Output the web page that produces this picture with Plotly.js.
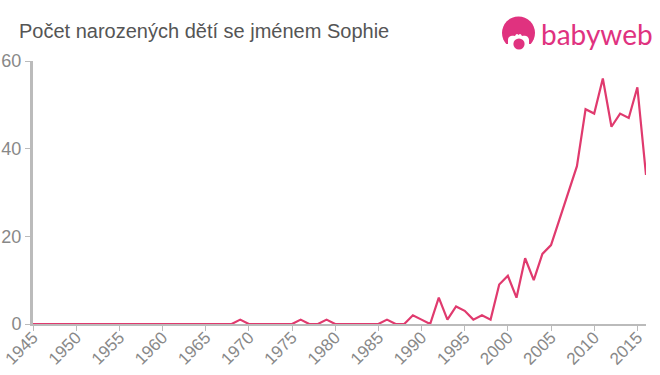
<!DOCTYPE html>
<html><head><meta charset="utf-8">
<script src="https://cdn.plot.ly/plotly-3.0.1.min.js"></script>
<style>html,body{margin:0;padding:0;background:#fff}#c{width:660px;height:375px}</style>
</head><body><div id="c"></div>
<script>
const years = [1945,1946,1947,1948,1949,1950,1951,1952,1953,1954,1955,1956,1957,1958,1959,1960,1961,1962,1963,1964,1965,1966,1967,1968,1969,1970,1971,1972,1973,1974,1975,1976,1977,1978,1979,1980,1981,1982,1983,1984,1985,1986,1987,1988,1989,1990,1991,1992,1993,1994,1995,1996,1997,1998,1999,2000,2001,2002,2003,2004,2005,2006,2007,2008,2009,2010,2011,2012,2013,2014,2015,2016];
const births = [0,0,0,0,0,0,0,0,0,0,0,0,0,0,0,0,0,0,0,0,0,0,0,0,1,0,0,0,0,0,0,1,0,0,1,0,0,0,0,0,0,1,0,0,2,1,0,6,1,4,3,1,2,1,9,11,6,15,10,16,18,24,30,36,49,48,56,45,48,47,54,34];
const xTicks = [1945,1950,1955,1960,1965,1970,1975,1980,1985,1990,1995,2000,2005,2010,2015];
const yTicks = [0,20,40,60];
const titleText = "Počet narozených dětí se jménem Sophie";
const logoText = "babyweb";
const logoSvg = "<svg xmlns='http://www.w3.org/2000/svg' width='36' height='36' viewBox='0 0 36 36'><circle cx='18.5' cy='17' r='16.5' fill='#e0327f'/><path d='M8 36 V24 C8 20 12 19 15 20 C16 18 17 17 18.5 19 C20 17 21 18 22 20 C25 19 29 20 29 24 V36 Z' fill='#fff'/><path d='M0 28 H36 V36 H0Z' fill='#fff'/><circle cx='19' cy='28' r='5.6' fill='#e0327f'/></svg>";

const W = 660, H = 375, L = 33, R = 14, T = 61, B = 51;
const px = v => (v - L) / (W - L - R);
const py = v => (H - B - v) / (H - T - B);

Plotly.newPlot('c', [{
  x: years, y: births, type: 'scatter', mode: 'lines',
  line: {color: '#e03a6e', width: 2.2, shape: 'linear'},
  hoverinfo: 'x+y', cliponaxis: false
}], {
  width: W, height: H,
  margin: {l: L, r: R, t: T, b: B, pad: 0},
  paper_bgcolor: '#fff', plot_bgcolor: '#fff',
  showlegend: false,
  font: {family: '"Liberation Sans", Arial, sans-serif', color: '#888'},
  xaxis: {
    range: [1945, 2016], tickmode: 'array', tickvals: xTicks, ticktext: xTicks.map(String),
    tickangle: -45, tickfont: {size: 17, color: '#888'}, ticklabelstandoff: -10, ticklabeloverflow: 'allow',
    showgrid: false, zeroline: false, showline: true, linecolor: '#bbb', linewidth: 2,
    ticks: 'outside', ticklen: 5, tickcolor: '#bbb', tickwidth: 1
  },
  yaxis: {
    range: [0, 60], tickmode: 'array', tickvals: yTicks, ticktext: yTicks.map(String),
    tickfont: {size: 18, color: '#888'},
    showgrid: false, zeroline: false, showline: true, linecolor: '#bbb', linewidth: 3,
    ticks: 'outside', ticklen: 5, tickcolor: '#bbb', tickwidth: 1
  },
  annotations: [
    {text: titleText, xref: 'paper', yref: 'paper', x: px(17), y: py(31), xanchor: 'left', yanchor: 'middle', showarrow: false, font: {size: 20, color: '#555'}},
    {text: logoText, xref: 'paper', yref: 'paper', x: px(539), y: py(34), xanchor: 'left', yanchor: 'middle', showarrow: false, font: {family: 'Lato, sans-serif', size: 28, color: '#e0327f'}}
  ],
  images: [{
    source: 'data:image/svg+xml;utf8,' + encodeURIComponent(logoSvg),
    xref: 'paper', yref: 'paper', x: px(500), y: py(16), sizex: 36 / (W - L - R), sizey: 36 / (H - T - B),
    xanchor: 'left', yanchor: 'top', sizing: 'stretch', layer: 'above'
  }]
}, {displayModeBar: false, staticPlot: true});
</script></body></html>
